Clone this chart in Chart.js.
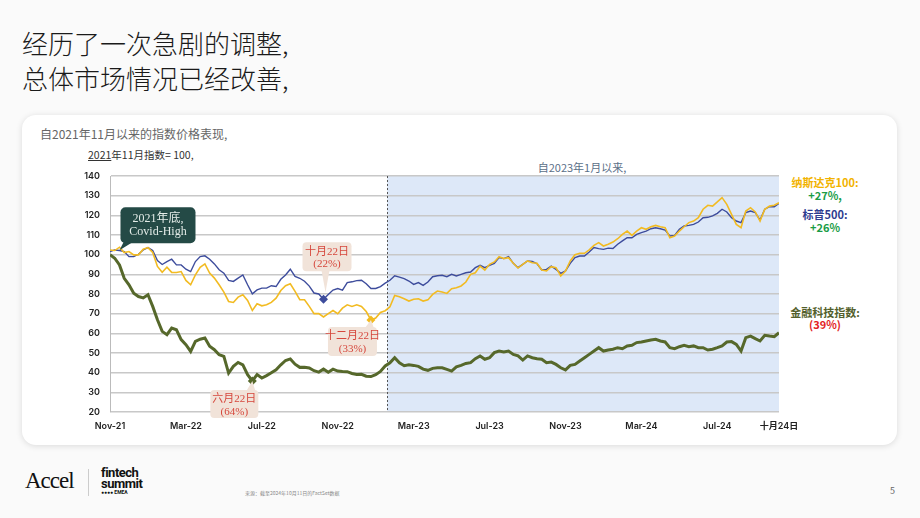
<!DOCTYPE html>
<html>
<head>
<meta charset="utf-8">
<script src="https://cdn.jsdelivr.net/npm/chart.js@4/dist/chart.umd.min.js"></script>
<style>
  body { margin: 0; width: 920px; height: 518px; overflow: hidden; background: #fafafa;
         font-family: "Noto Sans CJK SC", "Noto Sans", sans-serif; position: relative; }
  .abs { position: absolute; white-space: nowrap; }
  .title { left: 22px; top: 25px; font-size: 26px; line-height: 35px; color: #1a1a1a; font-weight: 300; }
  .card { left: 22px; top: 115px; width: 875px; height: 330px; background: #fff; border-radius: 14px;
          box-shadow: 0 1px 6px rgba(0,0,0,0.13); }
  .sub { left: 40px; top: 126px; font-size: 12px; line-height: 16px; color: #666; }
  .note { left: 88px; top: 148px; font-size: 10.5px; line-height: 14px; color: #333; }
  .since { left: 482px; width: 200px; top: 160px; text-align: center; font-size: 11px; line-height: 14px; color: #5b6f88; }
  .lab { left: 790px; width: 70px; text-align: center; font-size: 11px; line-height: 14px; font-weight: bold; }
  #c { position: absolute; left: 60px; top: 160px; }
  .accel { left: 25px; top: 468px; font-family: "Liberation Serif", serif; font-size: 23px; letter-spacing: -1px; color: #111; }
  .vline { left: 88px; top: 469px; width: 1px; height: 27px; background: #ccc; }
  .ft { left: 101px; top: 467px; font-family: Roboto, sans-serif; font-weight: bold; font-size: 13px; line-height: 11px; letter-spacing: -0.5px; color: #111; }
  .ft small { font-size: 5px; line-height: 7px; letter-spacing: 0; display: block; }
  .src { left: 245px; top: 489px; font-size: 5px; color: #888; }
  .pg { left: 890px; top: 484px; font-size: 9px; color: #666; }
</style>
</head>
<body>
<div class="abs title">经历了一次急剧的调整,<br>总体市场情况已经改善,</div>
<div class="abs card"></div>
<div class="abs sub">自2021年11月以来的指数价格表现,</div>
<div class="abs note"><u>2021</u>年11月指数= 100,</div>
<div class="abs since">自2023年1月以来,</div>

<div class="abs lab" style="top:175px;color:#f2b300">纳斯达克100:</div>
<div class="abs lab" style="top:188px;color:#1a9c45">+27%,</div>
<div class="abs lab" style="top:207px;color:#2f3d8f">标普500:</div>
<div class="abs lab" style="top:220px;color:#1a9c45">+26%</div>
<div class="abs lab" style="top:305px;color:#535f2c">金融科技指数:</div>
<div class="abs lab" style="top:317px;color:#e31e24">(39%)</div>

<canvas id="c" width="740" height="280"></canvas>

<div class="abs accel">Accel</div>
<div class="abs vline"></div>
<div class="abs ft">fintech<br>summit<small>●●●● EMEA</small></div>
<div class="abs src">来源：截至2024年10月11日的FactSet数据</div>
<div class="abs pg">5</div>

<script>
// Index level, Nov-2021 = 100, sampled roughly weekly (step in months)
const step = 0.25;
const startJan23 = 14.6;

const tickMonths = [0, 4, 8, 12, 16, 20, 24, 28, 32, 35.25];
const tickLabels = ['Nov-21', 'Mar-22', 'Jul-22', 'Nov-22', 'Mar-23', 'Jul-23', 'Nov-23', 'Mar-24', 'Jul-24', '十月24日'];

const nasdaq = [102.4,102.1,103.8,101.1,101.6,99.9,99.9,102.8,103.6,101.1,94,91,93.6,91,90.9,91.4,86.9,84.7,89.7,93.6,
  95.3,90.6,88.1,84.7,81,76.2,75.7,78.4,79.6,76.7,71.6,75,74,74.5,75.7,77.9,81.8,84.2,85.2,81.3,
  77.1,77.1,73.7,70,70,68.3,70,71.6,70,72.8,74.5,73.7,74.5,73.7,71.1,66.8,67.8,70.6,71.5,73.5,
  79.3,78.6,77.6,76.4,77.3,77.6,76.4,77,79.8,81.5,81,80.3,82.7,83.2,84.1,86.1,90,90.8,94.2,92.2,
  95.1,96.3,99,98,98.5,95.6,93.2,95.1,96.8,95.9,95.6,92.2,91.7,93.9,93.4,89.2,91.7,96.8,100,100.7,
  100.7,102.4,104.7,106.1,104.4,105.3,106.4,108.1,110.3,112,109.8,112,113.7,112.9,114.2,114.9,114.2,113.7,108.6,109.5,
  112,114.2,116.3,117.1,118.8,123.1,125.1,124.7,126.8,129,125.6,120.5,115.4,113.7,122.2,123.9,121.7,117.1,123.1,124.7,
  125.1,126.4];

const sp500 = [101.6,102.4,102.1,101.6,99,99,100.2,102.4,103.6,102.1,97,95,96.5,97.7,94.8,94.8,92.6,91.4,96.5,99,
  99.4,97.7,95.3,92.3,90.6,86.9,86.4,88.1,89.7,84.7,80.1,82.1,83,83,84.2,83.8,87.5,89.7,92.6,88.9,
  88,86.5,84,80.5,80,77.3,79.8,82,82.8,82,85.8,86.2,86.8,87,85.2,82.8,82.8,83.8,85.5,87,
  89.3,88.6,87.8,86.6,84.9,85.8,84.4,86.1,88.8,89.3,89.5,88.8,90,89.2,90,90.8,91.2,93.4,94.6,93.4,
  94.6,95.6,98.5,98,99,95.6,93.4,95.1,96.8,96.6,95.4,92.2,92.5,94.2,92.5,90.5,91.7,95.6,98.5,99.3,
  99.3,101.4,103.6,103.1,102.7,103.3,103.1,105.3,107,108.6,108.6,110.3,111.2,112,113.2,113.7,113.2,112.5,109.5,109.8,
  112.9,114.6,114.9,115.4,116.6,118.8,119,119.7,121,123.1,121.7,118.8,117.1,116.3,121.4,122.2,121.4,117.6,123.1,124.4,
  124.4,126.1];

const fintech = [100,98.2,94.8,88,84.7,80.4,78.7,78,79.6,73.7,66.9,61,59.3,62.7,61.8,56.8,54.2,50.8,55.9,57,
  57.6,53.4,51.7,49.1,48.3,39.8,43.2,45.2,44,39,35.8,39,37.3,38.5,40,41.5,44,46.2,47,44.3,
  42.7,42.8,42.4,41,40.3,41.8,40.2,41.8,40.8,40.6,40.5,39.6,39.1,39.2,38.2,38,39,40.6,43.4,45,
  47.6,45,43.5,44,43.7,43.2,41.8,41.2,42.2,42.5,42.5,41.7,40.8,43,43.7,44.7,45.1,47.1,48.5,46.8,
  47.6,50.2,51,50.5,51,49.3,48.5,46.4,48.5,47.6,47.1,46.8,45.1,45.4,44.2,42.5,41.4,43.7,44.2,45.9,
  47.6,49.3,51,52.7,51,51.5,51.9,52.7,52.2,53.6,53.9,55.3,55.6,56.1,56.6,57,56.1,55.6,52.7,52.2,
  53.2,53.9,53.2,53.6,52.7,52.7,51.5,51.9,52.7,53.6,55.6,55.8,54.4,51,57.8,58.6,57.3,56.1,59,58.6,
  58.3,60.3];

const yTicks = [20, 30, 40, 50, 60, 70, 80, 90, 100, 110, 120, 130, 140];

function toPoints(arr) {
  return arr.map((v, i) => ({ x: i * step, y: v }));
}
function lowIndex(arr) {
  return arr.indexOf(Math.min(...arr));
}

const series = [
  { label: '纳斯达克100', data: nasdaq, color: '#f2bb22', width: 1.6, order: 1 },
  { label: '标普500', data: sp500, color: '#3d4c9c', width: 1.4, order: 2 },
  { label: '金融科技指数', data: fintech, color: '#56682b', width: 3, order: 3 }
];

// callouts, anchored to the low point of a series (box offset in px from that point)
const callouts = [
  { ds: 1, lines: ['十月22日', '(22%)'], dx: -21, dy: -57, w: 49, h: 29, tipDy: -7 },
  { ds: 0, lines: ['十二月22日', '(33%)'], dx: -43, dy: 7, w: 49, h: 29 },
  { ds: 2, lines: ['六月22日', '(64%)'], dx: -42, dy: 9, w: 48, h: 28 }
];

const shadePlugin = {
  id: 'shade',
  beforeDraw(chart) {
    const { ctx, chartArea: a, scales: { x } } = chart;
    const x0 = x.getPixelForValue(startJan23);
    ctx.save();
    ctx.fillStyle = '#dde8f8';
    ctx.fillRect(x0, a.top, a.right - x0, a.bottom - a.top);
    ctx.restore();
  },
  beforeDatasetsDraw(chart) {
    const { ctx, chartArea: a, scales: { x } } = chart;
    const x0 = Math.round(x.getPixelForValue(startJan23)) + 0.5;
    ctx.save();
    ctx.strokeStyle = '#555';
    ctx.lineWidth = 1;
    ctx.setLineDash([2, 2]);
    ctx.beginPath();
    ctx.moveTo(x0, a.top);
    ctx.lineTo(x0, a.bottom);
    ctx.stroke();
    ctx.restore();
  }
};

function roundRect(ctx, x, y, w, h, r) {
  ctx.beginPath();
  ctx.moveTo(x + r, y);
  ctx.arcTo(x + w, y, x + w, y + h, r);
  ctx.arcTo(x + w, y + h, x, y + h, r);
  ctx.arcTo(x, y + h, x, y, r);
  ctx.arcTo(x, y, x + w, y, r);
  ctx.closePath();
}

const calloutPlugin = {
  id: 'callouts',
  afterDatasetsDraw(chart) {
    const ctx = chart.ctx;
    ctx.save();
    // Covid-High box, pointing at the start of the series
    const m0 = chart.getDatasetMeta(0).data[2];
    const cx = m0.x, cy = m0.y + 3;
    const bx = cx + 1, by = cy - 43, bw = 75, bh = 36;
    ctx.fillStyle = '#244a46';
    roundRect(ctx, bx, by, bw, bh, 5);
    ctx.fill();
    ctx.beginPath();
    ctx.moveTo(bx + 3, by + bh - 1);
    ctx.lineTo(bx + 12, by + bh - 1);
    ctx.lineTo(cx, cy);
    ctx.closePath();
    ctx.fill();
    ctx.fillStyle = '#e4ece8';
    ctx.textAlign = 'center';
    ctx.textBaseline = 'middle';
    ctx.font = '12px "Liberation Serif", "Noto Sans CJK SC", serif';
    ctx.fillText('2021年底,', bx + bw / 2, by + 12);
    ctx.fillText('Covid-High', bx + bw / 2, by + 25);

    callouts.forEach(c => {
      const s = series[c.ds].data;
      const pt = chart.getDatasetMeta(c.ds).data[lowIndex(s)];
      const x = pt.x + c.dx, y = pt.y + c.dy;
      ctx.fillStyle = '#f1e3d9';
      roundRect(ctx, x, y, c.w, c.h, 4);
      ctx.fill();
      ctx.beginPath();
      if (c.dy < 0) {
        ctx.moveTo(pt.x - 2, y + c.h - 1);
        ctx.lineTo(pt.x + 6, y + c.h - 1);
        ctx.lineTo(pt.x + 2, pt.y + (c.tipDy || 0));
      } else {
        ctx.moveTo(pt.x - 6, y + 1);
        ctx.lineTo(pt.x + 3, y + 1);
        ctx.lineTo(pt.x, pt.y);
      }
      ctx.closePath();
      ctx.fill();
      ctx.fillStyle = '#d6473c';
      ctx.font = '11px "Liberation Serif", "Noto Sans CJK SC", serif';
      ctx.fillText(c.lines[0], x + c.w / 2, y + 9.5);
      ctx.fillText(c.lines[1], x + c.w / 2, y + 22);
    });
    ctx.restore();
  }
};

new Chart(document.getElementById('c'), {
  type: 'line',
  data: {
    datasets: series.map(s => ({
      label: s.label,
      data: toPoints(s.data),
      borderColor: s.color,
      backgroundColor: s.color,
      borderWidth: s.width,
      order: s.order,
      tension: 0,
      pointStyle: 'rectRot',
      pointRadius: ctx => ctx.dataIndex === lowIndex(s.data) ? 4.5 : 0,
      pointBorderWidth: 0,
      pointHoverRadius: 0
    }))
  },
  options: {
    responsive: false,
    animation: false,
    layout: { padding: { top: 16, right: 21, left: 0, bottom: 0 } },
    plugins: { legend: { display: false }, tooltip: { enabled: false } },
    scales: {
      x: {
        type: 'linear',
        min: 0,
        max: tickMonths[tickMonths.length - 1],
        afterBuildTicks: s => { s.ticks = tickMonths.map(v => ({ value: v })); },
        afterFit: s => { s.height = 28; s.paddingLeft = 0; s.paddingRight = 0; },
        grid: { display: false, drawTicks: false },
        border: { display: false },
        ticks: {
          autoSkip: false, maxRotation: 0, padding: 9, color: '#222',
          font: { family: 'Inter, "Noto Sans CJK SC", sans-serif', size: 9, weight: '600' },
          callback: v => tickLabels[tickMonths.indexOf(v)]
        }
      },
      y: {
        min: 20, max: 140,
        afterBuildTicks: s => { s.ticks = yTicks.map(v => ({ value: v })); },
        afterFit: s => { s.width = 50; s.paddingTop = 0; s.paddingBottom = 0; },
        grid: { color: '#c8c8c8', lineWidth: 1.5, drawTicks: false },
        border: { display: true, color: '#bbb', width: 1 },
        ticks: {
          padding: 10, color: '#222',
          font: { family: 'Inter, sans-serif', size: 9, weight: '600' }
        }
      }
    }
  },
  plugins: [shadePlugin, calloutPlugin]
});
</script>
</body>
</html>
